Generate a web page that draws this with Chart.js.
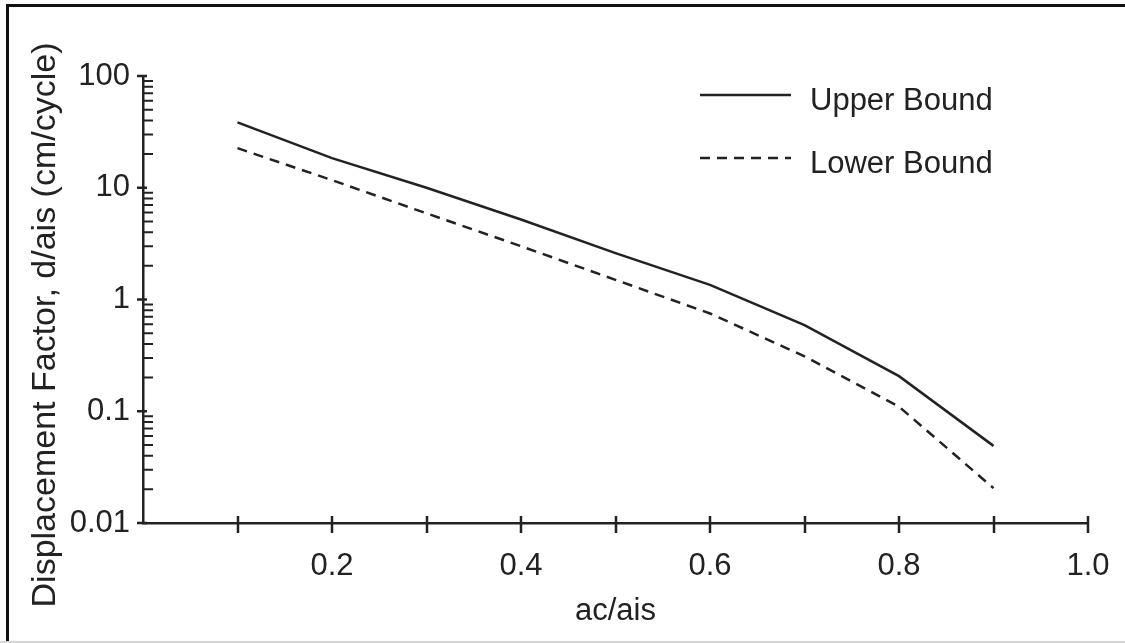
<!DOCTYPE html>
<html>
<head>
<meta charset="utf-8">
<title>Displacement Factor vs ac/ais</title>
<script src="https://cdn.jsdelivr.net/npm/chart.js@4.4.0/dist/chart.umd.min.js"></script>
<style>
  html, body { margin: 0; padding: 0; background: #fff; }
  #wrap { position: relative; width: 1125px; height: 643px; overflow: hidden; }
  #mycanvas { position: absolute; left: 0; top: 0; }
  #frame { position: absolute; left: 6px; top: 4px; right: -10px; bottom: -10px;
           border-top: 3px solid #111; border-left: 3px solid #111; pointer-events: none; }
  #base { position: absolute; left: 0; right: 0; top: 641px; height: 2px; background: #d6d6d6; }
</style>
</head>
<body>
<div id="wrap">
  <canvas id="mycanvas" width="1125" height="643"></canvas>
  <div id="frame"></div>
  <div id="base"></div>
</div>
<script>
// ratio ac/ais
var acRatio = [0.1, 0.2, 0.3, 0.4, 0.5, 0.6, 0.7, 0.8, 0.9];
// displacement factor d/ais (cm/cycle)
var upperBound = [38.5, 18.4, 10.0, 5.2, 2.6, 1.35, 0.59, 0.206, 0.049];
var lowerBound = [22.6, 11.7, 5.9, 3.0, 1.5, 0.75, 0.31, 0.11, 0.0205];

var xTickValues = [0.1, 0.2, 0.3, 0.4, 0.5, 0.6, 0.7, 0.8, 0.9, 1.0];
var xTickLabels = ['', '0.2', '', '0.4', '', '0.6', '', '0.8', '', '1.0'];
var yMajorValues = [0.01, 0.1, 1, 10, 100];
var yMajorLabels = ['0.01', '0.1', '1', '10', '100'];

var yTitle = 'Displacement Factor, d/ais (cm/cycle)';
var xTitle = 'ac/ais';

var FONT = '"Liberation Sans", Arial, Helvetica, sans-serif';
var FSIZE = 31;
var INK = '#222';

Chart.defaults.font.family = FONT;
Chart.defaults.font.size = FSIZE;
Chart.defaults.color = INK;

// log ticks: 1..9 per decade
var yTickList = [];
for (var d = 0; d < yMajorValues.length; d++) {
	var base = yMajorValues[d];
	yTickList.push({ value: base, major: true });
	if (d < yMajorValues.length - 1) {
		for (var k = 2; k <= 9; k++) {
			yTickList.push({ value: +(base * k).toPrecision(3), major: false });
		}
	}
}

var tickMarks = {
	id: 'tickMarks',
	afterDraw: function(chart) {
		var ctx = chart.ctx;
		var xs = chart.scales.x;
		var ys = chart.scales.y;
		var area = chart.chartArea;
		ctx.save();
		ctx.strokeStyle = INK;
		ctx.lineWidth = 2.5;
		ctx.beginPath();
		xs.ticks.forEach(function(t) {
			var px = Math.round(xs.getPixelForValue(t.value));
			ctx.moveTo(px, area.bottom - 7);
			ctx.lineTo(px, area.bottom + 10);
		});
		ys.ticks.forEach(function(t) {
			var py = ys.getPixelForValue(t.value);
			if (t.major) {
				ctx.moveTo(area.left - 6, py);
				ctx.lineTo(area.left + 4, py);
			}
		});
		ctx.stroke();
		ctx.lineWidth = 2;
		ctx.beginPath();
		ys.ticks.forEach(function(t) {
			if (t.major) return;
			var py = ys.getPixelForValue(t.value);
			ctx.moveTo(area.left, py);
			ctx.lineTo(area.left + 10, py);
		});
		ctx.stroke();

		// legend
		ctx.font = FSIZE + 'px ' + FONT;
		ctx.textAlign = 'left';
		ctx.textBaseline = 'middle';
		ctx.fillStyle = INK;
		var rows = [95, 158];
		chart.data.datasets.forEach(function(ds, i) {
			ctx.lineWidth = ds.borderWidth;
			ctx.setLineDash(ds.borderDash || []);
			ctx.beginPath();
			ctx.moveTo(700, rows[i]);
			ctx.lineTo(791, rows[i]);
			ctx.stroke();
			ctx.setLineDash([]);
			ctx.fillText(ds.label, 810, rows[i] + 6);
		});

		// y axis title
		ctx.font = '34px ' + FONT;
		ctx.translate(46, 325);
		ctx.rotate(-Math.PI / 2);
		ctx.textAlign = 'center';
		ctx.fillText(yTitle, 0, 0);
		ctx.restore();
	}
};

var chartdata = {
	datasets: [
		{
			label: 'Upper Bound',
			data: acRatio.map(function(x, i) { return { x: x, y: upperBound[i] }; }),
			borderColor: INK,
			borderWidth: 2.5,
			pointRadius: 0,
			fill: false,
			tension: 0
		},
		{
			label: 'Lower Bound',
			data: acRatio.map(function(x, i) { return { x: x, y: lowerBound[i] }; }),
			borderColor: INK,
			borderWidth: 2.5,
			borderDash: [10, 7],
			pointRadius: 0,
			fill: false,
			tension: 0
		}
	]
};

var ctx = document.getElementById('mycanvas');
var LineGraph = new Chart(ctx, {
	type: 'line',
	data: chartdata,
	plugins: [tickMarks],
	options: {
		responsive: false,
		animation: false,
		layout: { padding: { top: 76, right: 37, left: 0, bottom: 0 } },
		plugins: { legend: { display: false }, tooltip: { enabled: false } },
		scales: {
			x: {
				type: 'linear',
				min: 0,
				max: 1,
				afterBuildTicks: function(scale) {
					scale.ticks = xTickValues.map(function(v) { return { value: v }; });
				},
				afterFit: function(scale) { scale.height = 643 - 523; },
				grid: { display: false, drawTicks: true, tickLength: 10 },
				border: { display: true, color: INK, width: 2.5 },
				ticks: {
					autoSkip: false,
					maxRotation: 0,
					padding: 15,
					color: INK,
					callback: function(value, index) { return xTickLabels[index]; }
				},
				title: { display: true, text: xTitle, color: INK, padding: { top: 4, bottom: 13 } }
			},
			y: {
				type: 'logarithmic',
				min: 0.01,
				max: 100,
				afterBuildTicks: function(scale) {
					scale.ticks = yTickList.map(function(t) { return { value: t.value, major: t.major }; });
				},
				afterFit: function(scale) { scale.width = 143; },
				grid: { display: false, drawTicks: true, tickLength: 6 },
				border: { display: true, color: INK, width: 2.5 },
				ticks: {
					autoSkip: false,
					padding: 7,
					color: INK,
					callback: function(value, index) {
						var j = yMajorValues.indexOf(value);
						return j >= 0 ? yMajorLabels[j] : '';
					}
				}
			}
		}
	}
});
</script>
</body>
</html>
